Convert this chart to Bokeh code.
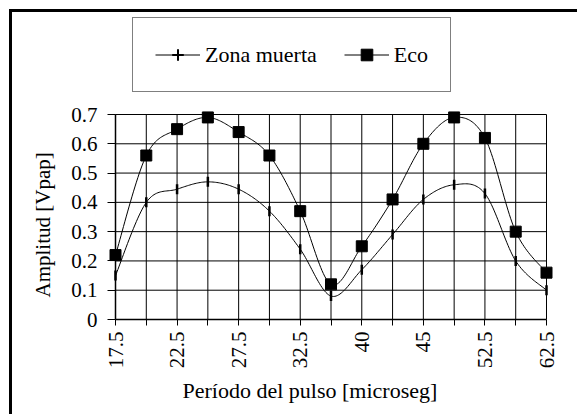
import numpy as np
from bokeh.plotting import figure
from bokeh.models import (Range1d, FixedTicker, Legend, LegendItem, Title)
from bokeh.embed import file_html
from bokeh.resources import INLINE

# ---- data -------------------------------------------------------------
periods = ["17.5", "20", "22.5", "25", "27.5", "30", "32.5", "35",
           "40", "42.5", "45", "50", "52.5", "57.5", "62.5"]
shown_labels = ["17.5", "22.5", "27.5", "32.5", "40", "45", "52.5", "62.5"]
zona_muerta = [0.15, 0.40, 0.445, 0.47, 0.445, 0.37, 0.24, 0.08,
               0.17, 0.29, 0.41, 0.46, 0.43, 0.20, 0.10]
eco = [0.22, 0.56, 0.65, 0.69, 0.64, 0.56, 0.37, 0.12,
       0.25, 0.41, 0.60, 0.69, 0.62, 0.30, 0.16]
y_ticks = [0, 0.1, 0.2, 0.3, 0.4, 0.5, 0.6, 0.7]

FONT = "Liberation Serif"
x_idx = list(range(len(periods)))
x_last = x_idx[-1]
y_max = y_ticks[-1]


def smooth(xs, ys, n=24):
    """Excel-like smoothed line (Catmull-Rom Bezier) through the points."""
    P = np.column_stack([np.asarray(xs, float), np.asarray(ys, float)])
    P = np.vstack([P[0], P, P[-1]])
    out = []
    t = np.linspace(0, 1, n, endpoint=False)[:, None]
    for i in range(1, len(P) - 2):
        p0, p1, p2, p3 = P[i - 1], P[i], P[i + 1], P[i + 2]
        c1 = p1 + (p2 - p0) / 6.0
        c2 = p2 - (p3 - p1) / 6.0
        seg = ((1 - t) ** 3) * p1 + 3 * ((1 - t) ** 2) * t * c1 + 3 * (1 - t) * t ** 2 * c2 + t ** 3 * p2
        out.append(seg)
    out.append(P[-2][None, :])
    S = np.vstack(out)
    return S[:, 0], S[:, 1]


# layout (pixels): value area is 431 x 205 px; frame padded sideways (so end markers
# are not clipped) and extended upward (to host the legend)
AREA_W, AREA_H = 431, 205
PAD_X, EXTRA_TOP = 7, 100
FRAME_W = AREA_W + 2 * PAD_X
FRAME_H = AREA_H + EXTRA_TOP
px_per_x = AREA_W / x_last
x_pad = PAD_X / px_per_x
y_top = y_max * FRAME_H / AREA_H

p = figure(frame_width=FRAME_W, frame_height=FRAME_H,
           x_range=Range1d(-x_pad, x_last + x_pad), y_range=Range1d(0, y_top),
           output_backend="svg", toolbar_location=None,
           min_border_left=103 - PAD_X, min_border_right=31 - PAD_X,
           min_border_top=2, min_border_bottom=95,
           background_fill_color="white", border_fill_color="white")
p.styles = {"border-left": "3px solid black", "border-top": "3px solid black",
            "margin-left": "9px", "margin-top": "9px"}

p.outline_line_color = None

# axes
p.xaxis.ticker = FixedTicker(ticks=x_idx)
p.xaxis.major_label_overrides = {i: (lbl if lbl in shown_labels else "") for i, lbl in enumerate(periods)}
p.xaxis.major_label_orientation = np.pi / 2
p.xaxis.bounds = (0, x_last)
p.xaxis.axis_line_color = "black"
p.xaxis.axis_line_width = 1.5
p.xaxis.major_tick_out = 6
p.xaxis.major_tick_in = 0
p.xaxis.major_label_standoff = 6

p.yaxis.ticker = FixedTicker(ticks=y_ticks)
p.yaxis.major_label_overrides = {0: "0"}
p.yaxis.bounds = (0, y_max)
p.yaxis.axis_line_color = None          # the line at x = 0 is drawn with the grid
p.yaxis.major_tick_out = 1
p.yaxis.major_tick_in = PAD_X           # ticks reach the x = 0 line
p.yaxis.major_label_standoff = 10

for ax in (p.xaxis[0], p.yaxis[0]):
    ax.major_tick_line_color = "black"
    ax.minor_tick_line_color = None
    ax.major_label_text_font = FONT
    ax.major_label_text_font_size = "21px"
    ax.major_label_text_color = "black"

# axis titles (as side titles so they can be offset like in the original)
ytitle = Title(text="Amplitud [Vpap]", align="left", offset=22, standoff=28,
               vertical_align="bottom", text_font=FONT, text_font_size="21px",
               text_font_style="normal", text_color="black")
p.add_layout(ytitle, "left")
xtitle = Title(text="Período del pulso [microseg]", align="left", offset=67 + PAD_X,
               standoff=12, vertical_align="top", text_font=FONT,
               text_font_size="22px", text_font_style="normal", text_color="black")
p.add_layout(xtitle, "below")

# grid lines over the value area only
p.xgrid.grid_line_color = None
p.ygrid.grid_line_color = None
p.segment(x0=x_idx, y0=[0] * len(x_idx), x1=x_idx, y1=[y_max] * len(x_idx),
          line_color="black", line_width=1)
p.segment(x0=[0] * len(y_ticks), y0=y_ticks, x1=[x_last] * len(y_ticks), y1=y_ticks,
          line_color="black", line_width=1)
p.segment(x0=[0], y0=[0], x1=[0], y1=[y_max], line_color="black", line_width=1.5)

# series
zx, zy = smooth(x_idx, zona_muerta)
ex, ey = smooth(x_idx, eco)
l1 = p.line(zx, zy, line_color="black", line_width=1)
l2 = p.line(ex, ey, line_color="black", line_width=1)
s1 = p.scatter(x_idx, zona_muerta, marker="dash", angle=np.pi / 2, size=10,
               line_color="black", line_width=2.5)
s2 = p.scatter(x_idx, eco, marker="square", size=11,
               fill_color="black", line_color="black")
# legend symbol for the tick marker (size 0 in the plot; the legend sizes it itself)
s1_leg = p.scatter(x_idx, zona_muerta, marker="cross", size=0,
                   line_color="black", line_width=2)

legend = Legend(items=[LegendItem(label="Zona muerta", renderers=[l1, s1_leg]),
                       LegendItem(label="Eco", renderers=[l2, s2])],
                orientation="horizontal", location=(17 + PAD_X, 227),
                padding=22, spacing=27, glyph_width=45, glyph_height=29,
                label_height=29, label_standoff=5,
                label_text_font=FONT, label_text_font_size="22px",
                label_text_color="black",
                border_line_color="black", border_line_width=1,
                background_fill_color="white", background_fill_alpha=1.0)
p.add_layout(legend, "center")

open("out.html", "w").write(file_html(p, INLINE))
